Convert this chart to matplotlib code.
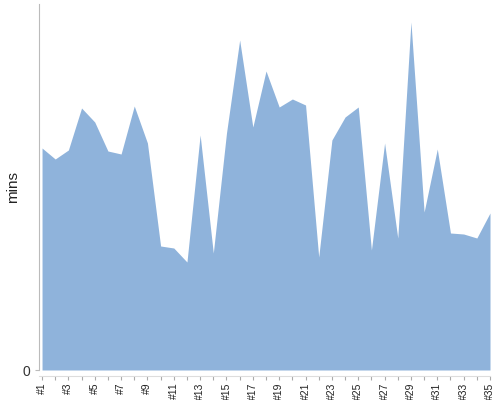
import matplotlib.pyplot as plt
import numpy as np

plt.rcParams['font.family'] = ['Liberation Sans', 'DejaVu Sans']

# --- Data ---
labels = ['#%d' % i for i in range(1, 36)]
mins = [222, 211, 220, 262, 248, 219, 216, 264, 227, 124,
        122, 108, 235, 117, 237, 330, 243, 299, 263, 271,
        265, 113, 230, 253, 263, 120, 227, 132, 348, 158,
        221, 137, 136, 132, 157]

FILL = '#8FB3DB'
AXIS = '#BBBBBB'

# --- Plot ---
fig = plt.figure(figsize=(5, 4), dpi=100)
ax = fig.add_axes([0.078, 0.075, 0.902, 0.915])

# spines first: moving a spine resets the ticks
for s in ['top', 'right']:
    ax.spines[s].set_visible(False)
ax.spines['left'].set_color(AXIS)
ax.spines['bottom'].set_color('#DDDDDD')
ax.spines['bottom'].set_position(('outward', 4))

x = np.arange(len(mins))
ax.fill_between(x, 0, mins, color=FILL, linewidth=0)

ax.set_xlim(-0.23, len(mins) - 1)
ax.set_ylim(0, 366)

ax.set_xticks(x)
ax.set_xticklabels([l if i % 2 == 0 else '' for i, l in enumerate(labels)])
ax.set_yticks([0])
ax.set_yticklabels(['0'])
ax.tick_params(axis='x', length=3, color='#AAAAAA', pad=2,
               labelrotation=90, labelsize=7.5, labelcolor='#222222')
ax.tick_params(axis='y', length=3, color=AXIS, pad=3,
               labelsize=10, labelcolor='#333333')
ax.set_ylabel('mins', fontsize=11, color='#222222')
ax.yaxis.set_label_coords(-0.043, 0.5)

plt.savefig('out.png')
